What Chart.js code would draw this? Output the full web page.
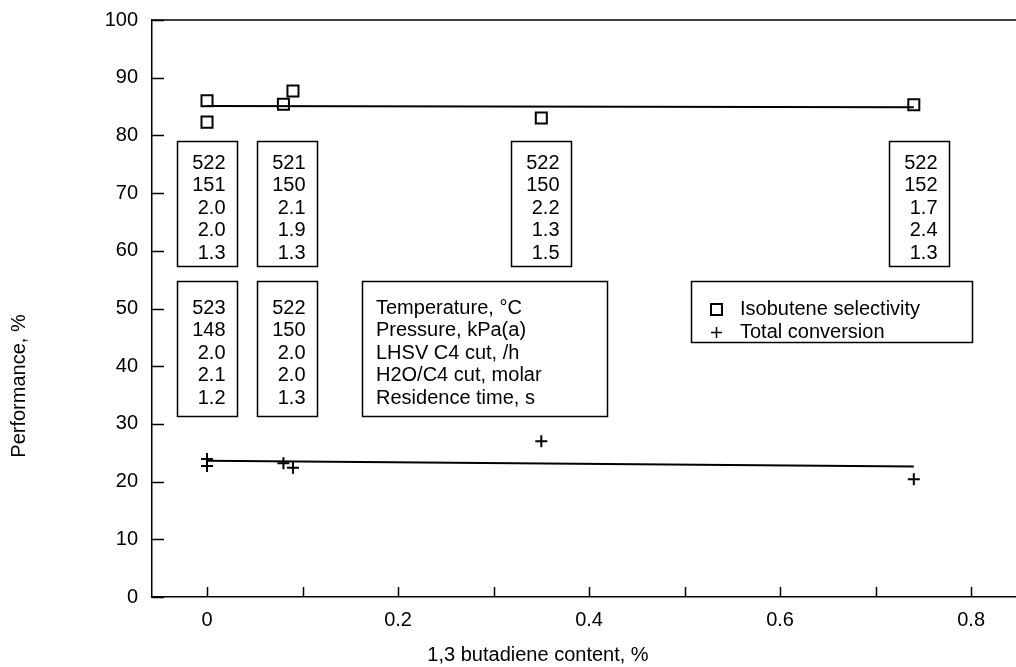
<!DOCTYPE html>
<html>
<head>
<meta charset="utf-8">
<script src="https://cdn.jsdelivr.net/npm/chart.js@4/dist/chart.umd.min.js"></script>
<style>
    html, body { margin: 0; padding: 0; background: #fff; }
    #wrap { width: 1016px; height: 667px; }
</style>
</head>
<body>
<div id="wrap"><canvas id="chart" width="1016" height="667"></canvas></div>
<script>
"use strict";

// measured points
var selectivityX = [0, 0, 0.08, 0.09, 0.35, 0.74];
var selectivityY = [86.0, 82.3, 85.4, 87.7, 83.0, 85.3];
var conversionX = [0, 0, 0.08, 0.09, 0.35, 0.74];
var conversionY = [23.9, 22.7, 23.2, 22.4, 27.0, 20.4];

// fitted lines
var selectivityFitX = [0, 0.74];
var selectivityFitY = [85.1, 84.9];
var conversionFitX = [0, 0.74];
var conversionFitY = [23.6, 22.6];

// ticks
var xTickValues = [0, 0.1, 0.2, 0.3, 0.4, 0.5, 0.6, 0.7, 0.8];
var xTickLabels = ["0", "", "0.2", "", "0.4", "", "0.6", "", "0.8"];
var yTickValues = [0, 10, 20, 30, 40, 50, 60, 70, 80, 90, 100];

// run conditions written in the boxes
var conditionNames = ["Temperature, °C", "Pressure, kPa(a)", "LHSV C4 cut, /h", "H2O/C4 cut, molar", "Residence time, s"];
var upperConditions = [
    ["522", "151", "2.0", "2.0", "1.3"],
    ["521", "150", "2.1", "1.9", "1.3"],
    ["522", "150", "2.2", "1.3", "1.5"],
    ["522", "152", "1.7", "2.4", "1.3"]
];
var lowerConditions = [
    ["523", "148", "2.0", "2.1", "1.2"],
    ["522", "150", "2.0", "2.0", "1.3"]
];
var legendNames = ["Isobutene selectivity", "Total conversion"];

var FONT = "'Liberation Sans', Arial, sans-serif";

function toPoints(xs, ys) {
    return xs.map(function (x, i) {
        return { x: x, y: ys[i] };
    });
}

/**
 * Inward ticks, top frame line, condition boxes, legend and axis titles.
 */
var decorations = {
    id: "decorations",
    afterDraw: function (chart) {
        var ctx = chart.ctx;
        var area = chart.chartArea;
        var xs = chart.scales.x;
        var ys = chart.scales.y;

        ctx.save();
        ctx.strokeStyle = "#000";
        ctx.fillStyle = "#000";
        ctx.lineWidth = 1.5;

        // top frame
        ctx.beginPath();
        ctx.moveTo(area.left, area.top);
        ctx.lineTo(area.right, area.top);
        ctx.stroke();

        // inward ticks
        ctx.beginPath();
        yTickValues.forEach(function (v) {
            var py = Math.round(ys.getPixelForValue(v)) + 0.5;
            ctx.moveTo(area.left, py);
            ctx.lineTo(area.left + 12, py);
        });
        xTickValues.forEach(function (v) {
            var px = Math.round(xs.getPixelForValue(v)) + 0.5;
            ctx.moveTo(px, area.bottom);
            ctx.lineTo(px, area.bottom - 10);
        });
        ctx.stroke();

        ctx.font = "20px " + FONT;
        ctx.textBaseline = "middle";

        // number boxes
        var upperCenters = [0, 0.084, 0.35, 0.745];
        var drawBox = function (rows, cx, top, height, firstLine) {
            var left = Math.round(cx - 30) + 0.5;
            ctx.strokeRect(left, top + 0.5, 60, height);
            ctx.textAlign = "right";
            rows.forEach(function (t, i) {
                ctx.fillText(t, left + 48, top + firstLine + i * 22.5);
            });
        };
        upperConditions.forEach(function (rows, i) {
            drawBox(rows, xs.getPixelForValue(upperCenters[i]), 141, 125, 22);
        });
        lowerConditions.forEach(function (rows, i) {
            drawBox(rows, xs.getPixelForValue(upperCenters[i]), 281, 135, 27);
        });

        // names box
        ctx.strokeRect(362.5, 281.5, 245, 135);
        ctx.textAlign = "left";
        conditionNames.forEach(function (t, i) {
            ctx.fillText(t, 376, 308 + i * 22.5);
        });

        // legend
        ctx.lineWidth = 2;
        ctx.strokeRect(711, 304, 11, 11);
        ctx.lineWidth = 1.5;
        ctx.strokeRect(691.5, 281.5, 281, 61);
        ctx.beginPath();
        ctx.moveTo(716.5, 327);
        ctx.lineTo(716.5, 338);
        ctx.moveTo(711, 332.5);
        ctx.lineTo(722, 332.5);
        ctx.stroke();
        ctx.fillText(legendNames[0], 740, 309);
        ctx.fillText(legendNames[1], 740, 332);

        // axis titles
        ctx.textAlign = "center";
        ctx.fillText("1,3 butadiene content, %", 538, 655);
        ctx.translate(19, 386);
        ctx.rotate(-Math.PI / 2);
        ctx.fillText("Performance, %", 0, 0);

        ctx.restore();
    }
};

var config = {
    type: "scatter",
    data: {
        datasets: [
            {
                data: toPoints(selectivityX, selectivityY),
                pointStyle: "rect",
                pointRadius: 7.8,
                borderColor: "#000",
                backgroundColor: "rgba(0,0,0,0)",
                borderWidth: 2
            },
            {
                data: toPoints(conversionX, conversionY),
                pointStyle: "cross",
                pointRadius: 6,
                borderColor: "#000",
                borderWidth: 2
            },
            {
                data: toPoints(selectivityFitX, selectivityFitY),
                showLine: true,
                pointRadius: 0,
                borderColor: "#000",
                borderWidth: 2
            },
            {
                data: toPoints(conversionFitX, conversionFitY),
                showLine: true,
                pointRadius: 0,
                borderColor: "#000",
                borderWidth: 2
            }
        ]
    },
    plugins: [decorations],
    options: {
        responsive: false,
        animation: false,
        layout: { autoPadding: false, padding: { top: 20, right: 0, left: 0, bottom: 0 } },
        plugins: {
            legend: { display: false },
            tooltip: { enabled: false }
        },
        scales: {
            x: {
                type: "linear",
                min: -0.0576,
                max: 0.847,
                afterBuildTicks: function (scale) {
                    scale.ticks = xTickValues.map(function (v) { return { value: v }; });
                },
                afterFit: function (scale) {
                    scale.height = 70;
                    scale.paddingLeft = 0;
                    scale.paddingRight = 0;
                },
                ticks: {
                    autoSkip: false,
                    maxRotation: 0,
                    padding: 11,
                    color: "#000",
                    font: { family: FONT, size: 20 },
                    callback: function (value, index) {
                        return xTickLabels[index];
                    }
                },
                grid: { drawOnChartArea: false, drawTicks: false },
                border: { display: true, color: "#000", width: 1.5 }
            },
            y: {
                min: 0,
                max: 100,
                afterBuildTicks: function (scale) {
                    scale.ticks = yTickValues.map(function (v) { return { value: v }; });
                },
                afterFit: function (scale) {
                    scale.width = 152;
                    scale.paddingTop = 0;
                    scale.paddingBottom = 0;
                },
                ticks: {
                    padding: 14,
                    color: "#000",
                    font: { family: FONT, size: 20 }
                },
                grid: { drawOnChartArea: false, drawTicks: false },
                border: { display: true, color: "#000", width: 1.5 }
            }
        }
    }
};

new Chart(document.getElementById("chart"), config);
</script>
</body>
</html>
